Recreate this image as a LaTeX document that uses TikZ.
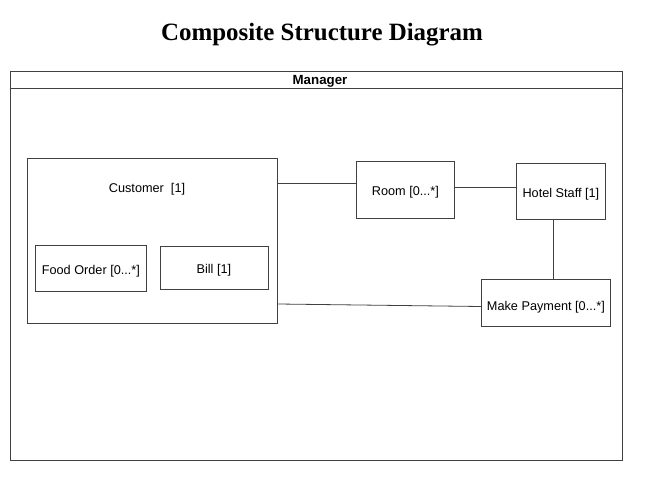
\documentclass[tikz,border=0pt]{standalone}
\usepackage{fontspec}
\setmainfont{Liberation Sans}
\newfontfamily\titlefont{Liberation Serif}
\tikzset{
  part/.style={draw=black!75, line width=0.8pt, inner sep=0pt, text height=12pt, text depth=0pt, font=\fontsize{12.7}{15}\selectfont},
  conn/.style={draw=black!75, line width=0.8pt},
}
\begin{document}
\begin{tikzpicture}[x=1pt,y=-1pt]
\useasboundingbox (0,0) rectangle (652,486);
\node[font=\titlefont\bfseries\fontsize{24.9}{29}\selectfont] (title) at (322,35) {Composite Structure Diagram};
% Manager frame
\node[part, minimum width=612pt, minimum height=389pt, anchor=north west] (mgr) at (10,71) {};
\coordinate (hl) at (10,88);
\coordinate (hr) at (622,88);
\draw[conn] (hl) -- (hr);
\node[font=\bfseries\fontsize{13.3}{15}\selectfont] (mgrlabel) at (320,81.5) {Manager};
% Customer
\node[part, minimum width=250pt, minimum height=165pt, anchor=north west] (cust) at (27,158) {};
\node[font=\fontsize{12.7}{15}\selectfont] (custlabel) at (147,189.5) {Customer\ \ [1]};
\node[part, minimum width=111pt, minimum height=46pt, anchor=north west] (food) at (35,245) {Food Order [0...*]};
\node[part, minimum width=108pt, minimum height=43pt, anchor=north west] (bill) at (159.5,245.5) {Bill [1]};
% Others
\node[part, minimum width=98pt, minimum height=57pt, anchor=north west] (room) at (356,161) {Room [0...*]};
\node[part, minimum width=89pt, minimum height=56pt, anchor=north west] (staff) at (516,163) {Hotel Staff [1]};
\node[part, text height=17pt, minimum width=129pt, minimum height=47pt, anchor=north west] (pay) at (481,278.5) {Make Payment [0...*]};
% connectors
\draw[conn] (cust.north east |- 0,183.5) -- (room.west |- 0,183.5);
\draw[conn] (room.east |- 0,187.5) -- (staff.west |- 0,187.5);
\draw[conn] (staff.south -| 553,0) -- (pay.north -| 553,0);
\draw[conn] (cust.north east |- 0,304) -- (pay.west |- 0,306.5);
\end{tikzpicture}
\end{document}
